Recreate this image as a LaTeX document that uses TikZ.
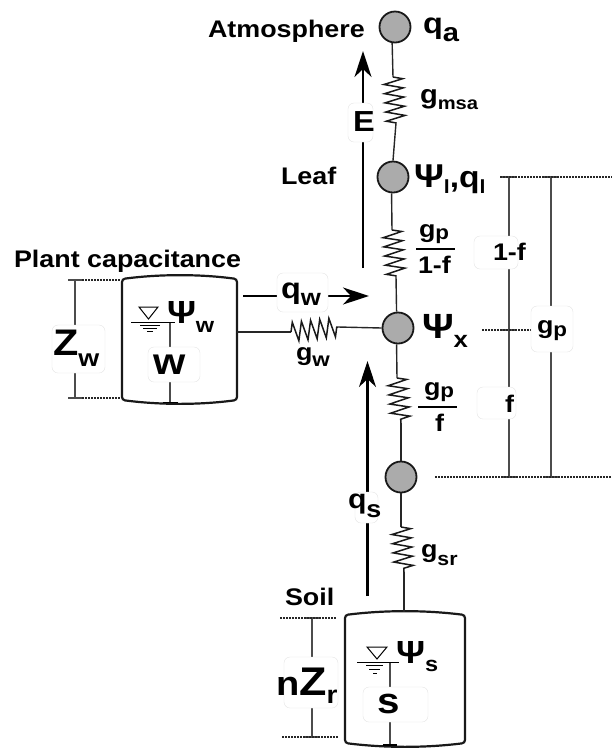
\documentclass[tikz,border=0pt]{standalone}
\usepackage{fontspec}
\setmainfont{Liberation Sans}[FakeStretch=1.12]
\usetikzlibrary{arrows.meta,decorations.pathmorphing}
\newcommand{\PX}[2]{{\fontsize{#1}{#1}\selectfont\bfseries #2}}
\newcommand{\SB}[3]{\raisebox{-#1pt}{\PX{#2}{#3}}}
\tikzset{
 x=1pt,y=-1pt,
 junction/.style={circle,draw=black!90,fill=black!33,line width=1.8pt,minimum size=31pt,inner sep=0pt},
 wire/.style={line width=1.4pt,draw=black!85},
 spring/.style={line width=1.5pt,draw=black!90,decorate,decoration={zigzag,segment length=9.2pt,amplitude=9.5pt}},
 flow/.style={line width=2.2pt,-{Stealth[length=26pt,width=17pt,inset=8pt]}},
 dim/.style={line width=1.2pt,draw=black!70},
 dots/.style={line width=1.3pt,dash pattern=on 1.5pt off 1.5pt,draw=black!85},
 tank/.style={line width=2.2pt,draw=black!90},
 txt/.style={inner sep=0pt,outer sep=0pt,anchor=base west},
 halo/.style={fill=white,draw=black!12,line width=.3pt,rounded corners=6pt,inner sep=0pt},
}
\begin{document}
\begin{tikzpicture}
\useasboundingbox (0,0) rectangle (612,748);
% junctions
\node[junction] (qa) at (395,27) {};
\node[junction] (ql) at (393,177) {};
\node[junction] (qx) at (398,328) {};
\node[junction] (qr) at (401,477) {};
% springs
\coordinate (s1a) at (393,77); \coordinate (s1b) at (396,123);
\coordinate (s2a) at (392,230); \coordinate (s2b) at (396,276);
\coordinate (s3a) at (397,378); \coordinate (s3b) at (401,423);
\coordinate (s4a) at (401,527); \coordinate (s4b) at (404,572);
\coordinate (s5a) at (291,332); \coordinate (s5b) at (338,327);
\draw[wire] (qa.-100) -- (s1a); \draw[spring] (s1a) -- (s1b); \draw[wire] (s1b) -- (ql.north);
\draw[wire] (ql.-95) -- (s2a); \draw[spring] (s2a) -- (s2b); \draw[wire] (s2b) -- (qx.95);
\draw[wire] (qx.-95) -- (s3a); \draw[spring] (s3a) -- (s3b); \draw[wire] (s3b) -- (qr.north);
\draw[wire] (qr.south) -- (s4a); \draw[spring] (s4a) -- (s4b);
% plant tank
\coordinate (tw) at (237,332);
\draw[tank,rounded corners=3pt] (122,279) .. controls (160,274) and (200,274) .. (237,279) -- (237,400) .. controls (200,405) and (160,405) .. (122,400) -- cycle;
\draw[wire] (tw) -- (s5a);
\draw[spring] (s5a) -- (s5b);
\draw[wire] (s5b) -- (qx.west);
% soil tank
\coordinate (ts) at (404,612);
\draw[tank,rounded corners=3pt] (345,615) .. controls (385,610) and (425,610) .. (465,615) -- (465,743) .. controls (425,748) and (385,748) .. (345,743) -- cycle;
\draw[wire] (s4b) -- (ts);
% flows
\coordinate (e0) at (363,268); \coordinate (e1) at (363,51);
\draw[flow] (e0) -- (e1);
\coordinate (qs0) at (367.5,596); \coordinate (qs1) at (367.5,361);
\draw[flow] (qs0) -- (qs1);
\coordinate (qw0) at (243,296); \coordinate (qw1) at (369,296);
\draw[flow] (qw0) -- (qw1);
% dimension lines
\coordinate (zw1) at (75,280); \coordinate (zw2) at (75,398);
\draw[dim] (zw1) -- (zw2);
\draw[dim] (68,280) -- (82,280); \draw[dim] (68,398) -- (82,398);
\draw[dots] (82,280) -- (120,280); \draw[dots] (82,398) -- (120,398);
\coordinate (zr1) at (312,618); \coordinate (zr2) at (312,737);
\draw[dim] (zr1) -- (zr2);
\draw[dim] (304,618) -- (320,618); \draw[dim] (304,737) -- (320,737);
\draw[dots] (280,618) -- (337,618); \draw[dots] (282,737) -- (338,737);
\coordinate (f1) at (509,177); \coordinate (f2) at (509,477);
\coordinate (g1) at (551,177); \coordinate (g2) at (551,477);
\draw[dim] (f1) -- (f2); \draw[dim] (g1) -- (g2);
\draw[dim] (501,177) -- (517,177); \draw[dim] (544,177) -- (558,177);
\draw[dim] (500,330) -- (517,330); \draw[dim] (501,477) -- (517,477); \draw[dim] (544,477) -- (558,477);
\draw[dots] (500,177) -- (612,177); \draw[dots] (435,477) -- (612,477); \draw[dots] (482,330) -- (531,330);
% tank internals
\coordinate (w0) at (170,322); \coordinate (w1) at (170,403);
\draw[dim] (w0) -- (w1); \draw[line width=1.8pt] (163,402.5) -- (178,402.5);
\draw[line width=1pt] (131,322) -- (175,322);
\draw[line width=1pt] (139,307) -- (158,307) -- (148.5,319) -- cycle;
\draw[line width=.9pt] (140,325) -- (160,325); \draw[line width=.9pt] (143,328) -- (157,328); \draw[line width=.9pt] (147,331) -- (153,331);
\coordinate (s0) at (390,662); \coordinate (s1) at (390,745);
\draw[dim] (s0) -- (s1); \draw[line width=1.8pt] (383,745) -- (397,745);
\draw[line width=1pt] (357,662) -- (399,662);
\draw[line width=1pt] (367,647) -- (387,647) -- (377,659) -- cycle;
\draw[line width=.9pt] (366,665) -- (383,665); \draw[line width=.9pt] (369,669) -- (380,669); \draw[line width=.9pt] (373,673) -- (377,673);
% label patches
\node[halo,minimum width=53pt,minimum height=48pt] (pz) at (78.5,349) {};
\node[halo,minimum width=52pt,minimum height=35pt] (pw) at (174,364.5) {};
\node[halo,minimum width=54pt,minimum height=51pt] (pzr) at (311,682.5) {};
\node[halo,minimum width=65pt,minimum height=35pt] (ps) at (395.5,704.5) {};
\node[halo,minimum width=44pt,minimum height=33pt] (p1f) at (496,252.5) {};
\node[halo,minimum width=42pt,minimum height=46pt] (pgp) at (552,329) {};
\node[halo,minimum width=39pt,minimum height=32pt] (pf) at (496.5,403) {};
\node[halo,minimum width=25pt,minimum height=39pt] (pe) at (360.5,122.5) {};
\node[halo,minimum width=23pt,minimum height=31pt] (pqs) at (366.5,507.5) {};
\node[halo,minimum width=51pt,minimum height=39pt] (pqw) at (302.5,292.5) {};
% texts
\node[txt] (t1) at (208,37) {\PX{24}{Atmosphere}};
\node[txt] (t2) at (423,33) {\PX{29}{q}\SB{8}{26}{a}};
\node[txt] (t3) at (420,103) {\PX{26}{g}\SB{6}{18}{msa}};
\node[txt] (t4) at (281,184) {\PX{24}{Leaf}};
\node[txt] (t5) at (414,187) {\PX{33}{Ψ}\SB{6}{19}{l}\PX{30}{,q}\SB{6}{19}{l}};
\node[txt] (t6) at (14,267) {\PX{24}{Plant capacitance}};
\node[txt] (t7) at (422,338) {\PX{35}{Ψ}\SB{9}{23}{x}};
\node[txt] (t8) at (53,355) {\PX{37}{Z}\SB{11}{24}{w}};
\node[txt] (t9) at (167,323) {\PX{32}{Ψ}\SB{9}{21}{w}};
\node[txt] (t10) at (153,374) {\PX{37}{w}};
\node[txt] (t11) at (281,298) {\PX{29}{q}\SB{7}{23}{w}};
\node[txt] (t12) at (296,360) {\PX{24}{g}\SB{6}{20}{w}};
\node[txt] (t13) at (353,131) {\PX{29}{E}};
\node[txt] (t14) at (348,508) {\PX{27}{q}\SB{9}{24}{s}};
\node[txt] (t15) at (421,557) {\PX{24}{g}\SB{8}{19}{sr}};
\node[txt] (t16) at (285,605) {\PX{24}{Soil}};
\node[txt] (t17) at (276,695) {\PX{34}{n}\PX{40}{Z}\SB{8}{25}{r}};
\node[txt] (t18) at (396,663) {\PX{32}{Ψ}\SB{8}{21}{s}};
\node[txt] (t19) at (377,713) {\PX{36}{s}};
\node[txt] (t20) at (493,260) {\PX{24}{1-f}};
\node[txt] (t21) at (537,333) {\PX{24}{g}\SB{3}{20}{p}};
\node[txt] (t22) at (505,412) {\PX{24}{f}};
% fractions
\node[txt] (t23) at (419,237) {\PX{24}{g}\SB{2}{20}{p}};
\node[txt] (t24) at (418,273) {\PX{24}{1-f}};
\coordinate (b1a) at (416,249); \coordinate (b1b) at (455,249);
\draw[line width=1.6pt] (b1a) -- (b1b);
\node[txt] (t25) at (424,395) {\PX{24}{g}\SB{2}{20}{p}};
\node[txt] (t26) at (435,431) {\PX{24}{f}};
\coordinate (b2a) at (418,407); \coordinate (b2b) at (457,407);
\draw[line width=1.6pt] (b2a) -- (b2b);
\end{tikzpicture}
\end{document}
